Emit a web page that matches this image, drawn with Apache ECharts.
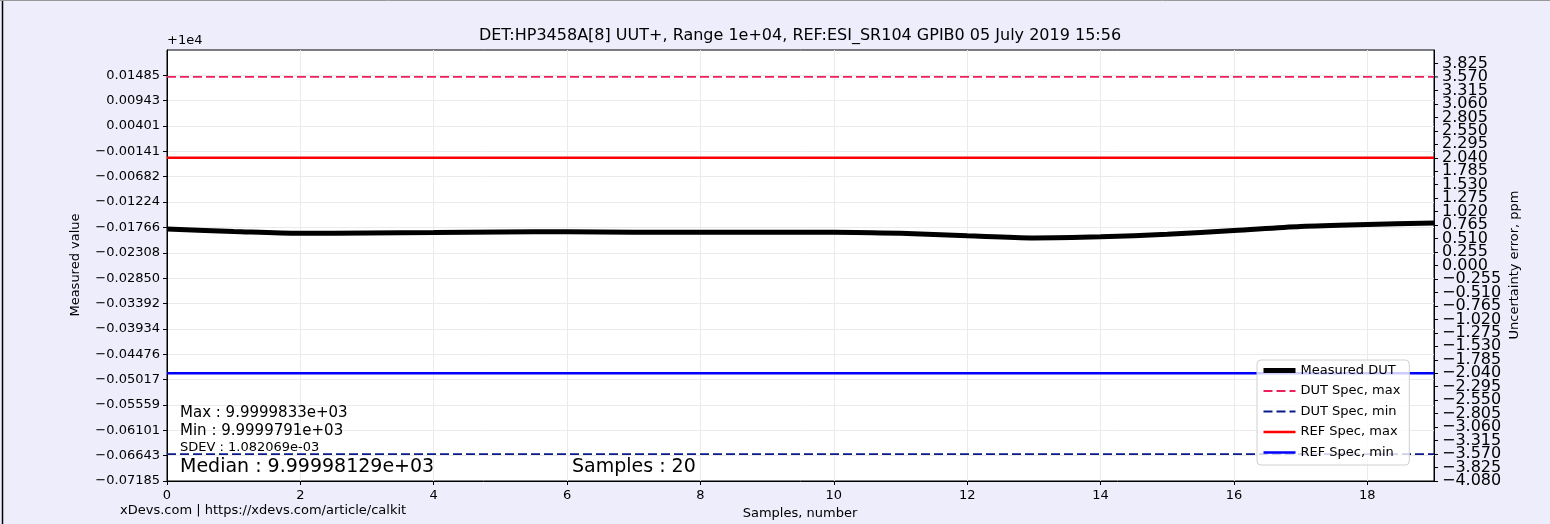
<!DOCTYPE html>
<html lang="en">
<head>
<meta charset="UTF-8">
<title>HP3458A UUT+ vs ESI SR104</title>
<script src="https://cdn.jsdelivr.net/npm/echarts@6/dist/echarts.min.js"></script>
<style>
  html, body { margin: 0; padding: 0; background: #ededfc; }
  #chart { width: 1550px; height: 524px; }
</style>
</head>
<body>
<div id="chart"></div>
<script>
  // sample numbers and measured values (offset from 1e4, as the axis shows them)
  var samples = [0, 1, 2, 3, 4, 5, 6, 7, 8, 9, 10, 11, 12, 13, 14, 15, 16, 17, 18, 19];
  var measuredDut = [-0.01800, -0.01850, -0.01890, -0.01884, -0.01876, -0.01862, -0.01856, -0.01868, -0.01868, -0.01866,
                     -0.01866, -0.01890, -0.01944, -0.01990, -0.01966, -0.01912, -0.01832, -0.01745, -0.01702, -0.01672];

  // spec limits, ppm (right axis)
  var dutSpec = [3.57, -3.57];
  var refSpec = [2.04, -2.04];

  // tick labels
  var leftTicks = [-0.07185, -0.06643, -0.06101, -0.05559, -0.05017, -0.04476, -0.03934, -0.03392, -0.02850,
                   -0.02308, -0.01766, -0.01224, -0.00682, -0.00141, 0.00401, 0.00943, 0.01485];
  var rightTicks = [-4.080, -3.825, -3.570, -3.315, -3.060, -2.805, -2.550, -2.295, -2.040, -1.785, -1.530,
                    -1.275, -1.020, -0.765, -0.510, -0.255, 0.000, 0.255, 0.510, 0.765, 1.020, 1.275, 1.530,
                    1.785, 2.040, 2.295, 2.550, 2.805, 3.060, 3.315, 3.570, 3.825];
  var xTicks = [0, 2, 4, 6, 8, 10, 12, 14, 16, 18];

  var statLines = ['Max : 9.9999833e+03', 'Min : 9.9999791e+03', 'SDEV : 1.082069e-03'];
  var medianText = 'Median : 9.99998129e+03';
  var samplesText = 'Samples : 20';

  var FONT = 'DejaVu Sans';
  var first = samples[0], last = samples[samples.length - 1];

  function minus(s) { return s.replace('-', '\u2212'); }

  var chart = echarts.init(document.getElementById('chart'));
  var option = {
    backgroundColor: '#ededfc',
    animation: false,
    textStyle: { fontFamily: FONT },
    grid: {
      left: 167, right: 116, top: 50, bottom: 43,
      show: true, backgroundColor: '#fff', borderColor: '#000', borderWidth: 1
    },
    legend: {
      orient: 'vertical',
      left: 1257, top: 360,
      itemWidth: 32, itemHeight: 14, itemGap: 7.5,
      padding: [4, 9, 6, 4],
      backgroundColor: 'rgba(255,255,255,0.8)',
      borderColor: '#d0d0d0', borderWidth: 1, borderRadius: 4,
      selectedMode: false,
      itemStyle: { opacity: 0 },
      lineStyle: { width: 'inherit' },
      textStyle: { fontFamily: FONT, fontSize: 13, color: '#000' },
      z: 20,
      data: ['Measured DUT', 'DUT Spec, max', 'DUT Spec, min', 'REF Spec, max', 'REF Spec, min']
    },
    xAxis: {
      type: 'value', min: first, max: last,
      axisLine: { show: true, onZero: false, lineStyle: { color: '#000' } },
      axisTick: { show: true, length: 4, customValues: xTicks, lineStyle: { color: '#000' } },
      axisLabel: { customValues: xTicks, margin: 8, fontSize: 13, color: '#000', fontFamily: FONT },
      splitLine: { show: true, lineStyle: { color: '#ebebeb' } }
    },
    yAxis: [
      {
        type: 'value', min: -0.07185, max: 0.0202688,
        axisLine: { show: true, onZero: false, lineStyle: { color: '#000' } },
        axisTick: { show: true, length: 4, customValues: leftTicks, lineStyle: { color: '#000' } },
        axisLabel: {
          customValues: leftTicks, margin: 7, fontSize: 13, color: '#000', fontFamily: FONT,
          formatter: function (v) { return minus(v.toFixed(5)); }
        },
        splitLine: { show: true, lineStyle: { color: '#ebebeb' } }
      },
      {
        type: 'value', position: 'right', min: -4.08, max: 4.08,
        axisLine: { show: true, onZero: false, lineStyle: { color: '#000' } },
        axisTick: { show: true, length: 4, customValues: rightTicks, lineStyle: { color: '#000' } },
        axisLabel: {
          customValues: rightTicks, margin: 8, fontSize: 16, lineHeight: 10, color: '#000', fontFamily: FONT,
          showMinLabel: true, showMaxLabel: true, hideOverlap: false,
          formatter: function (v) { return minus(v.toFixed(3)); }
        },
        splitLine: { show: false }
      }
    ],
    series: [
      {
        name: 'Measured DUT', type: 'line', yAxisIndex: 0, symbol: 'none', smooth: 0.3, z: 5,
        lineStyle: { color: '#000', width: 5 }, itemStyle: { color: '#000' },
        data: samples.map(function (s, i) { return [s, measuredDut[i]]; })
      },
      {
        name: 'DUT Spec, max', type: 'line', yAxisIndex: 1, symbol: 'none',
        lineStyle: { color: '#ee1f5c', width: 1.8, type: [9, 4] }, itemStyle: { color: '#ee1f5c' },
        data: [[first, dutSpec[0]], [last, dutSpec[0]]]
      },
      {
        name: 'DUT Spec, min', type: 'line', yAxisIndex: 1, symbol: 'none',
        lineStyle: { color: '#0a1a8a', width: 1.8, type: [9, 4] }, itemStyle: { color: '#0a1a8a' },
        data: [[first, dutSpec[1]], [last, dutSpec[1]]]
      },
      {
        name: 'REF Spec, max', type: 'line', yAxisIndex: 1, symbol: 'none',
        lineStyle: { color: '#ff0000', width: 2.5 }, itemStyle: { color: '#ff0000' },
        data: [[first, refSpec[0]], [last, refSpec[0]]]
      },
      {
        name: 'REF Spec, min', type: 'line', yAxisIndex: 1, symbol: 'none',
        lineStyle: { color: '#0000ff', width: 2.5 }, itemStyle: { color: '#0000ff' },
        data: [[first, refSpec[1]], [last, refSpec[1]]]
      }
    ],
    graphic: [
      { type: 'line', shape: { x1: 2.5, y1: 0, x2: 2.5, y2: 524 }, style: { stroke: '#000', lineWidth: 1.5 } },
      { type: 'line', shape: { x1: 0, y1: 0.5, x2: 1550, y2: 0.5 }, style: { stroke: '#999', lineWidth: 1 } },
      { type: 'text', x: 800, y: 36, style: { text: 'DET:HP3458A[8] UUT+, Range 1e+04, REF:ESI_SR104 GPIB0 05 July 2019 15:56',
        font: '16px "DejaVu Sans"', fill: '#000', textAlign: 'center', textVerticalAlign: 'middle' } },
      { type: 'text', x: 167, y: 41, style: { text: '+1e4', font: '13px "DejaVu Sans"', fill: '#000', textAlign: 'left', textVerticalAlign: 'middle' } },
      { type: 'text', x: 76, y: 265, rotation: Math.PI / 2, style: { text: 'Measured value', font: '13px "DejaVu Sans"', fill: '#000', textAlign: 'center', textVerticalAlign: 'middle' } },
      { type: 'text', x: 1515, y: 265, rotation: Math.PI / 2, style: { text: 'Uncertainty error, ppm', font: '13px "DejaVu Sans"', fill: '#000', textAlign: 'center', textVerticalAlign: 'middle' } },
      { type: 'text', x: 800, y: 514, style: { text: 'Samples, number', font: '13px "DejaVu Sans"', fill: '#000', textAlign: 'center', textVerticalAlign: 'middle' } },
      { type: 'text', x: 120, y: 511, style: { text: 'xDevs.com | https://xdevs.com/article/calkit', font: '13px "DejaVu Sans"', fill: '#000', textAlign: 'left', textVerticalAlign: 'middle' } },
      { type: 'text', x: 180, y: 413, z: 10, style: { text: statLines[0], font: '15px "DejaVu Sans"', fill: '#000', textVerticalAlign: 'middle' } },
      { type: 'text', x: 180, y: 431, z: 10, style: { text: statLines[1], font: '15px "DejaVu Sans"', fill: '#000', textVerticalAlign: 'middle' } },
      { type: 'text', x: 180, y: 448, z: 10, style: { text: statLines[2], font: '13px "DejaVu Sans"', fill: '#000', textVerticalAlign: 'middle' } },
      { type: 'text', x: 180, y: 467, z: 10, style: { text: medianText, font: '19px "DejaVu Sans"', fill: '#000', textVerticalAlign: 'middle' } },
      { type: 'text', x: 572, y: 467, z: 10, style: { text: samplesText, font: '19px "DejaVu Sans"', fill: '#000', textVerticalAlign: 'middle' } }
    ]
  };
  chart.setOption(option);

  // echarts drops the 2nd and 2nd-last right labels as "overlapping" -> put them back
  var axisX = chart.convertToPixel({ xAxisIndex: 0 }, last);
  [rightTicks[1], rightTicks[rightTicks.length - 2]].forEach(function (v) {
    var py = chart.convertToPixel({ yAxisIndex: 1 }, v);
    option.graphic.push({ type: 'line', shape: { x1: axisX, y1: py, x2: axisX + 4, y2: py }, style: { stroke: '#000', lineWidth: 1 } });
    option.graphic.push({ type: 'text', x: axisX + 8, y: py, style: { text: minus(v.toFixed(3)), font: '16px "DejaVu Sans"', fill: '#000', textAlign: 'left', textVerticalAlign: 'middle' } });
  });
  chart.setOption(option);
</script>
</body>
</html>
